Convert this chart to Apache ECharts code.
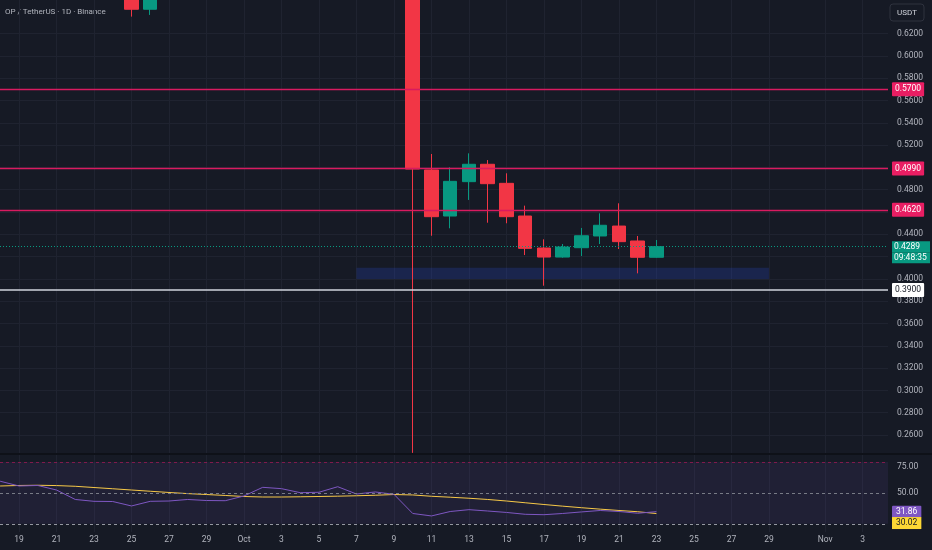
<!DOCTYPE html>
<html><head><meta charset="utf-8">
<script src="https://cdn.jsdelivr.net/npm/echarts@6/dist/echarts.min.js"></script>
<style>html,body{margin:0;padding:0;background:#161a25;}#c{width:932px;height:550px;}</style>
</head><body><div id="c"></div>
<script>
// Day index: 0 = Oct 1
const candleDays = [-6, -5, 9, 10, 11, 12, 13, 14, 15, 16, 17, 18, 19, 20, 21, 22];
const opens  = [0.680, 0.6418, 0.700, 0.4977, 0.4564, 0.4872, 0.5028, 0.4857, 0.4564, 0.4277, 0.4196, 0.4280, 0.4385, 0.4474, 0.4340, 0.4194];
const closes = [0.6418, 0.670, 0.4985, 0.4558, 0.4875, 0.5028, 0.4854, 0.4558, 0.4274, 0.4196, 0.4286, 0.4387, 0.4481, 0.4334, 0.4194, 0.4289];
const lows   = [0.6352, 0.6367, 0.2440, 0.4387, 0.4454, 0.4708, 0.4504, 0.4499, 0.4214, 0.3939, 0.4190, 0.4205, 0.4313, 0.4268, 0.4050, 0.4190];
const highs  = [0.690, 0.690, 0.710, 0.5120, 0.5001, 0.5126, 0.5066, 0.4947, 0.4657, 0.4355, 0.4313, 0.4457, 0.4588, 0.4678, 0.4385, 0.4349];

// RSI pane, Sep 17 .. Oct 23
const rsiDays = [-14,-13,-12,-11,-10,-9,-8,-7,-6,-5,-4,-3,-2,-1,0,1,2,3,4,5,6,7,8,9,10,11,12,13,14,15,16,17,18,19,20,21,22];
const rsi   = [65.5,61.4,56.8,57.3,52.9,43.7,41.9,41.7,37.4,41.9,42.2,43.7,42.7,42.5,47.1,55.5,54.2,50.3,50.7,56.1,49.0,51.0,48.7,30.1,27.7,32.0,33.8,32.5,31.1,29.3,28.9,30.1,31.6,33.0,32.0,30.3,31.86];
const rsiMa = [56.3,56.8,57.3,57.5,57.2,56.5,55.3,54.1,52.9,51.7,50.5,49.4,48.5,47.6,46.6,46.1,46.1,46.3,46.6,46.9,47.3,47.8,48.5,48.1,46.8,45.9,44.9,43.7,42.2,40.5,38.8,37.2,35.7,34.3,33.0,31.8,30.02];

// Levels
const resistanceLevels = [0.5700, 0.4990, 0.4620];
const supportLevel = 0.3900;
const lastPrice = 0.4289;
const lastTime = '09:48:35';
const zoneDays = [6, 28];
const zonePrices = [0.400, 0.410];
const rsiBands = [80, 50, 20];

// Ticks
const tickDays   = [-12,-10,-8,-6,-4,-2,0,2,4,6,8,10,12,14,16,18,20,22,24,26,28,31,33];
const tickLabels = ['19','21','23','25','27','29','Oct','3','5','7','9','11','13','15','17','19','21','23','25','27','29','Nov','3'];
const priceGridTicks = [0.26,0.28,0.30,0.32,0.34,0.36,0.38,0.40,0.42,0.44,0.46,0.48,0.50,0.52,0.54,0.56,0.58,0.60,0.62];
const priceTickLabels = [0.26,0.28,0.30,0.32,0.34,0.36,0.38,0.40,0.44,0.48,0.52,0.54,0.56,0.58,0.60,0.62];
const rsiTickLabels = [50, 75];

const FONT = "Roboto,'Noto Sans',sans-serif";
const TXT = '#b2b5be';
const GRIDC = '#1f2330';
const XMIN = -13.013, XMAX = 34.35;
const UP = '#089981', DOWN = '#f23645';

const xLabel = v => { const i = tickDays.indexOf(Math.round(v)); return i >= 0 ? tickLabels[i] : ''; };

const chart = echarts.init(document.getElementById('c'));
const labelBox = (bg, fg) => ({
  show: true, position: 'end', distance: 4, backgroundColor: bg, color: fg, opacity: 1,
  fontSize: 8.5, fontFamily: FONT, padding: [3, 3, 2, 3], borderRadius: 1
});
const hidden = { width: 0, color: 'rgba(0,0,0,0)', opacity: 1 };

chart.setOption({
  backgroundColor: '#161a25',
  animation: false,
  grid: [
    { left: 0, right: 44, top: 0, height: 453 },
    { left: 0, right: 44, top: 455, height: 77 }
  ],
  xAxis: [
    { type: 'value', gridIndex: 0, min: XMIN, max: XMAX,
      axisLine: { show: false }, axisTick: { show: false, customValues: tickDays },
      axisLabel: { show: false }, splitLine: { show: true, lineStyle: { color: GRIDC } } },
    { type: 'value', gridIndex: 1, min: XMIN, max: XMAX,
      axisLine: { show: false }, axisTick: { show: false, customValues: tickDays },
      axisLabel: { customValues: tickDays, formatter: xLabel, color: TXT, fontSize: 8.5, fontFamily: FONT, margin: 3 },
      splitLine: { show: true, lineStyle: { color: GRIDC } } }
  ],
  yAxis: [
    { type: 'value', gridIndex: 0, position: 'right', min: 0.2439, max: 0.6501,
      axisLine: { show: false }, axisTick: { show: false, customValues: priceGridTicks },
      axisLabel: { customValues: priceTickLabels, formatter: v => v.toFixed(4), color: TXT, fontSize: 8.5, fontFamily: FONT, margin: 9 },
      splitLine: { show: true, lineStyle: { color: GRIDC } } },
    { type: 'value', gridIndex: 1, position: 'right', min: 12.1, max: 86.9,
      axisLine: { show: false }, axisTick: { show: false },
      axisLabel: { customValues: rsiTickLabels, formatter: v => v.toFixed(2), color: TXT, fontSize: 8.5, fontFamily: FONT, margin: 9 },
      splitLine: { show: false } }
  ],
  graphic: [
    { type: 'text', left: 5, top: 8, style: { text: 'OP / TetherUS · 1D · Binance', fill: TXT, font: "8px " + FONT } },
    { type: 'rect', shape: { x: 890, y: 4, width: 34, height: 17, r: 3 }, style: { fill: '#161a25', stroke: '#2e323e', lineWidth: 1 } },
    { type: 'text', x: 907, y: 12.5, style: { text: 'USDT', fill: '#d1d4dc', font: "8px " + FONT, align: 'center', verticalAlign: 'middle' } },
    { type: 'rect', shape: { x: 0, y: 453, width: 932, height: 2 }, style: { fill: '#0e1118' } }
  ],
  series: [
    { type: 'candlestick', xAxisIndex: 0, yAxisIndex: 0, barWidth: 14, clip: true,
      encode: { x: 0, y: [1, 2, 3, 4] },
      data: candleDays.map((d, i) => [d, opens[i], closes[i], lows[i], highs[i]]),
      itemStyle: { color: UP, color0: DOWN, borderColor: UP, borderColor0: DOWN, borderWidth: 1 },
      markArea: { silent: true, itemStyle: { color: 'rgba(41,72,200,0.25)' },
        data: [[{ xAxis: zoneDays[0], yAxis: zonePrices[0] }, { xAxis: zoneDays[1], yAxis: zonePrices[1] }]] },
      markLine: { silent: true, symbol: ['none', 'none'], precision: 4,
        data: [
          ...resistanceLevels.map(v => ({ yAxis: v, lineStyle: { color: '#d81b60', width: 1.3, type: 'solid', opacity: 1 },
            label: Object.assign(labelBox('#e91e63', '#ffffff'), { formatter: v.toFixed(4) }) })),
          { yAxis: supportLevel, lineStyle: { color: '#d1d4dc', width: 1.5, type: 'solid', opacity: 1 },
            label: Object.assign(labelBox('#ffffff', '#131722'), { formatter: supportLevel.toFixed(4) }) },
          { yAxis: lastPrice, lineStyle: { color: UP, width: 1, type: [1, 2], opacity: 1 },
            label: { show: true, position: 'end', distance: 4, fontSize: 8.5, fontFamily: FONT, opacity: 1,
              formatter: '{e|}\n{a|' + lastPrice.toFixed(4) + '}\n{a|' + lastTime + '}',
              rich: {
                e: { height: 11, lineHeight: 11 },
                a: { backgroundColor: UP, color: '#ffffff', fontSize: 8.5, fontFamily: FONT, width: 34, height: 11, lineHeight: 11, padding: [0, 2] }
              } } }
        ] } },
    { type: 'line', xAxisIndex: 1, yAxisIndex: 1, showSymbol: false, symbol: 'none',
      data: rsiDays.map((d, i) => [d, rsi[i]]), lineStyle: { color: '#7e57c2', width: 1 }, z: 4,
      markArea: { silent: true, itemStyle: { color: 'rgba(126,87,194,0.10)' },
        data: [[{ yAxis: rsiBands[2] }, { yAxis: rsiBands[0] }]] },
      markLine: { silent: true, symbol: ['none', 'none'],
        data: [
          { yAxis: rsiBands[0], lineStyle: { color: 'rgba(194,24,91,0.6)', width: 1, type: [3, 3] }, label: { show: false } },
          { yAxis: rsiBands[1], lineStyle: { color: '#787b86', width: 1, type: [3, 3] }, label: { show: false } },
          { yAxis: rsiBands[2], lineStyle: { color: '#9598a1', width: 1, type: [3, 3] }, label: { show: false } },
          { yAxis: rsi[rsi.length - 1], lineStyle: hidden,
            label: Object.assign(labelBox('#7e57c2', '#ffffff'), { formatter: rsi[rsi.length - 1].toFixed(2), padding: [2, 4, 1, 4] }) }
        ] } },
    { type: 'line', xAxisIndex: 1, yAxisIndex: 1, showSymbol: false, symbol: 'none',
      data: rsiDays.map((d, i) => [d, rsiMa[i]]), lineStyle: { color: '#f7c948', width: 1 }, z: 3,
      markLine: { silent: true, symbol: ['none', 'none'],
        data: [
          { yAxis: rsiMa[rsiMa.length - 1], lineStyle: hidden,
            label: { show: true, position: 'end', distance: 4, fontSize: 8.5, fontFamily: FONT, opacity: 1,
              formatter: '{e|}\n{a|' + rsiMa[rsiMa.length - 1].toFixed(2) + '}',
              rich: {
                e: { height: 19, lineHeight: 19 },
                a: { backgroundColor: '#fdd835', color: '#131722', fontSize: 8.5, fontFamily: FONT, height: 12, lineHeight: 12, padding: [0, 4] }
              } } }
        ] } }
  ]
});
</script></body></html>
